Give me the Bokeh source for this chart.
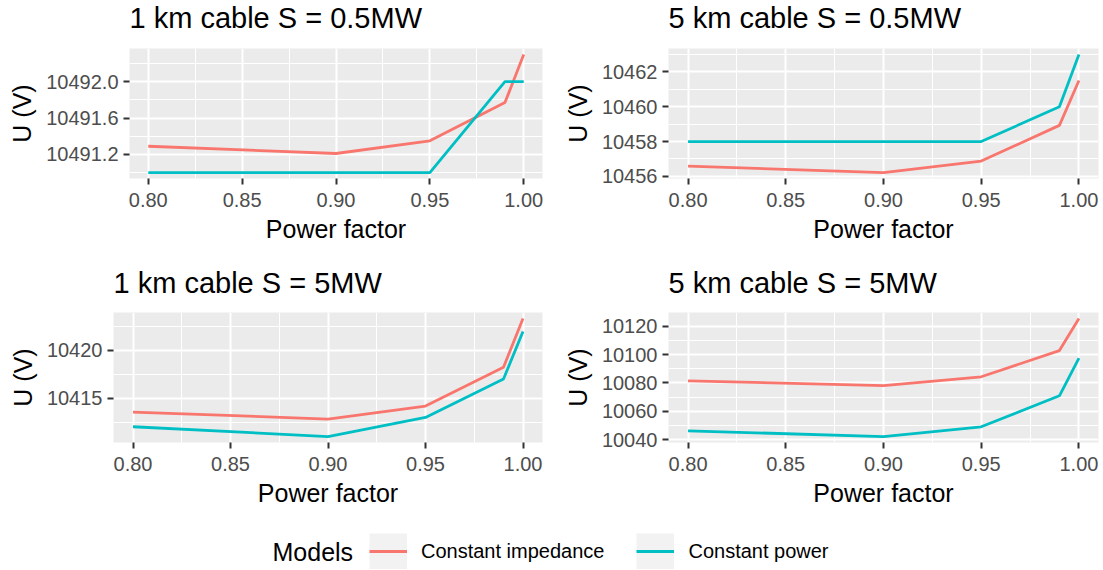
from bokeh.plotting import figure
from bokeh.models import FixedTicker, PrintfTickFormatter, Range1d, Legend, LegendItem, Label, Title
from bokeh.layouts import column, row
from bokeh.embed import file_html
from bokeh.resources import INLINE

# ---- data ----
power_factor = [0.80, 0.90, 0.95, 0.99, 1.00]
models = ["Constant impedance", "Constant power"]

u_1km_05_imp = [10491.29, 10491.21, 10491.35, 10491.77, 10492.30]
u_1km_05_pow = [10491.00, 10491.00, 10491.00, 10492.00, 10492.00]
u_5km_05_imp = [10456.59, 10456.22, 10456.88, 10458.93, 10461.50]
u_5km_05_pow = [10458.00, 10458.00, 10458.00, 10460.00, 10463.00]
u_1km_5_imp = [10413.58, 10412.85, 10414.20, 10418.23, 10423.30]
u_1km_5_pow = [10412.05, 10411.03, 10413.02, 10417.01, 10421.94]
u_5km_5_imp = [10081.4, 10078.1, 10084.3, 10102.8, 10125.5]
u_5km_5_pow = [10046.2, 10042.1, 10049.0, 10070.9, 10097.5]

titles = ["1 km cable S = 0.5MW", "5 km cable S = 0.5MW",
          "1 km cable S = 5MW", "5 km cable S = 5MW"]

x_ticks = [0.80, 0.85, 0.90, 0.95, 1.00]
x_minor = [0.825, 0.875, 0.925, 0.975]
y_ticks_1 = [10491.2, 10491.6, 10492.0]
y_minor_1 = [10491.0, 10491.4, 10491.8, 10492.2]
y_ticks_2 = [10456, 10458, 10460, 10462]
y_minor_2 = [10457, 10459, 10461, 10463]
y_ticks_3 = [10415, 10420]
y_minor_3 = [10412.5, 10417.5, 10422.5]
y_ticks_4 = [10040, 10060, 10080, 10100, 10120]
y_minor_4 = [10050, 10070, 10090, 10110]

COL_IMP = "#F8766D"
COL_POW = "#00BFC4"
FONT = "Liberation Sans"
LINE_W = 2.8


def panel(title, y_imp, y_pow, yt, ym, yfmt, width, height, bl, br, bt, bb, t_standoff, spacer):
    lo = min(min(y_imp), min(y_pow))
    hi = max(max(y_imp), max(y_pow))
    pad = 0.05 * (hi - lo)
    xlo, xhi = min(power_factor), max(power_factor)
    xpad = 0.05 * (xhi - xlo)
    p = figure(width=width, height=height, output_backend="svg", toolbar_location=None,
               x_range=Range1d(xlo - xpad, xhi + xpad), y_range=Range1d(lo - pad, hi + pad),
               min_border_left=bl, min_border_right=br, min_border_top=bt, min_border_bottom=bb)
    p.background_fill_color = "#EBEBEB"
    p.border_fill_color = "white"
    p.outline_line_color = None

    if spacer is not None:
        p.add_layout(Title(text=" ", text_font_size="1px", standoff=spacer), "above")
    p.add_layout(Title(text=title, text_font=FONT, text_font_size="29px",
                       text_font_style="normal", text_color="black", align="left",
                       vertical_align="top", offset=0, standoff=t_standoff), "above")

    p.line(power_factor, y_imp, line_color=COL_IMP, line_width=LINE_W)
    p.line(power_factor, y_pow, line_color=COL_POW, line_width=LINE_W)

    p.xaxis.ticker = FixedTicker(ticks=x_ticks, minor_ticks=x_minor)
    p.yaxis.ticker = FixedTicker(ticks=yt, minor_ticks=ym)
    p.xaxis.formatter = PrintfTickFormatter(format="%.2f")
    p.yaxis.formatter = PrintfTickFormatter(format=yfmt)
    p.xaxis.axis_label = "Power factor"
    p.yaxis.axis_label = "U (V)"

    for ax in (p.xaxis, p.yaxis):
        ax.axis_line_color = None
        ax.major_tick_in = 0
        ax.major_tick_out = 6
        ax.major_tick_line_color = "#333333"
        ax.major_tick_line_width = 2
        ax.minor_tick_line_color = None
        ax.major_label_text_font = FONT
        ax.major_label_text_font_size = "20px"
        ax.major_label_text_color = "#4D4D4D"
        ax.axis_label_text_font = FONT
        ax.axis_label_text_font_size = "25px"
        ax.axis_label_text_font_style = "normal"
        ax.axis_label_text_color = "black"
    p.xaxis.major_label_standoff = 8
    p.xaxis.axis_label_standoff = 5
    p.yaxis.major_label_standoff = 5
    p.yaxis.axis_label_standoff = 7

    for g in (p.xgrid, p.ygrid):
        g.grid_line_color = "white"
        g.grid_line_width = 2
        g.minor_grid_line_color = "white"
        g.minor_grid_line_width = 1
    return p


f1 = panel(titles[0], u_1km_05_imp, u_1km_05_pow, y_ticks_1, y_minor_1, "%.1f",
           550, 252, 129, 8, 48, 74, 0, 10)
f2 = panel(titles[1], u_5km_05_imp, u_5km_05_pow, y_ticks_2, y_minor_2, "%d",
           550, 252, 118, 2, 48, 74, 0, 10)
f3 = panel(titles[2], u_1km_5_imp, u_1km_5_pow, y_ticks_3, y_minor_3, "%d",
           550, 264, 113, 8, 60, 74, 24, None)
f4 = panel(titles[3], u_5km_5_imp, u_5km_5_pow, y_ticks_4, y_minor_4, "%d",
           550, 264, 118, 2, 60, 74, 24, None)

# ---- legend strip ----
LW, LH = 1100, 53
fl = figure(width=LW, height=LH, output_backend="svg", toolbar_location=None,
            x_range=Range1d(0, LW), y_range=Range1d(0, LH),
            x_axis_type=None, y_axis_type=None, min_border=0)
fl.outline_line_color = None
fl.background_fill_color = "white"
fl.border_fill_color = "white"
fl.grid.visible = False

# legend-key renderers (their data lie outside this strip's ranges, so only the keys show)
key_bg = fl.line(power_factor, u_1km_05_imp, line_color="#F2F2F2", line_width=36)
key_imp = fl.line(power_factor, u_1km_05_imp, line_color=COL_IMP, line_width=LINE_W)
key_pow = fl.line(power_factor, u_1km_05_pow, line_color=COL_POW, line_width=LINE_W)

legend = Legend(items=[LegendItem(label=models[0], renderers=[key_bg, key_imp]),
                       LegendItem(label=models[1], renderers=[key_bg, key_pow])],
                orientation="horizontal", location=(369, 0),
                glyph_width=38, glyph_height=36, label_standoff=14, spacing=32,
                padding=0, margin=0, border_line_color=None, background_fill_alpha=0,
                label_text_font=FONT, label_text_font_size="20px", label_text_color="black")
fl.add_layout(legend)
fl.add_layout(Label(x=272, y=18, text="Models", text_font=FONT, text_font_size="25px",
                    text_baseline="middle", text_color="black"))

layout = column(row(f1, f2), row(f3, f4), fl)

open("out.html", "w").write(file_html(layout, INLINE))
